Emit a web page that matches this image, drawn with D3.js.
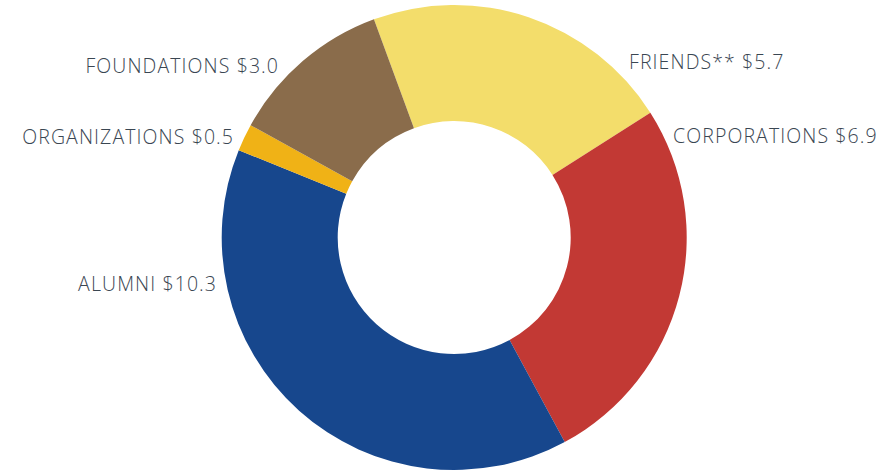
<!DOCTYPE html>
<html><head><meta charset="utf-8">
<script src="https://cdn.jsdelivr.net/npm/d3@7"></script>
<style>
html,body{margin:0;padding:0;background:#fff;}
svg{display:block;}
</style></head>
<body>
<svg id="chart" width="888" height="471"></svg>
<script>
// Data
const categories = ["FRIENDS**", "CORPORATIONS", "ALUMNI", "ORGANIZATIONS", "FOUNDATIONS"];
const values = [5.7, 6.9, 10.3, 0.5, 3.0];
const colors = ["#f3dd6b", "#c23934", "#17478d", "#f0b216", "#8a6c4b"];

// Layout
const width = 888, height = 471;
const cx = 454.2, cy = 237.5, outerR = 232.5, innerR = 116.5;
const startAngle = -20.2 * Math.PI / 180;
const ls = 1.1;
// label anchor placement (text-anchor, x, baseline y)
const labelLayout = [
  {anchor: "start", x: 629, y: 69},
  {anchor: "start", x: 673, y: 143},
  {anchor: "end", x: 216 + ls, y: 291},
  {anchor: "end", x: 233 + ls, y: 144},
  {anchor: "end", x: 278 + ls, y: 73}
];

const data = categories.map((c, i) => ({name: c, value: values[i], color: colors[i]}));
const pie = d3.pie().sort(null).value(d => d.value)
  .startAngle(startAngle).endAngle(startAngle + 2 * Math.PI);
const arc = d3.arc().innerRadius(innerR).outerRadius(outerR);

const svg = d3.select("#chart");
const g = svg.append("g").attr("transform", `translate(${cx},${cy})`);
g.selectAll("path").data(pie(data)).join("path")
  .attr("d", arc)
  .attr("fill", d => d.data.color);

svg.append("g").selectAll("text").data(data).join("text")
  .attr("x", (d, i) => labelLayout[i].x)
  .attr("y", (d, i) => labelLayout[i].y)
  .attr("text-anchor", (d, i) => labelLayout[i].anchor)
  .attr("font-family", "'Open Sans', 'Liberation Sans', Arial, sans-serif")
  .attr("font-size", 19.5)
  .attr("font-weight", 300)
  .attr("letter-spacing", ls)
  .attr("fill", "#3a4652")
  .text(d => `${d.name} $${d.value.toFixed(1)}`);
</script>
</body></html>
